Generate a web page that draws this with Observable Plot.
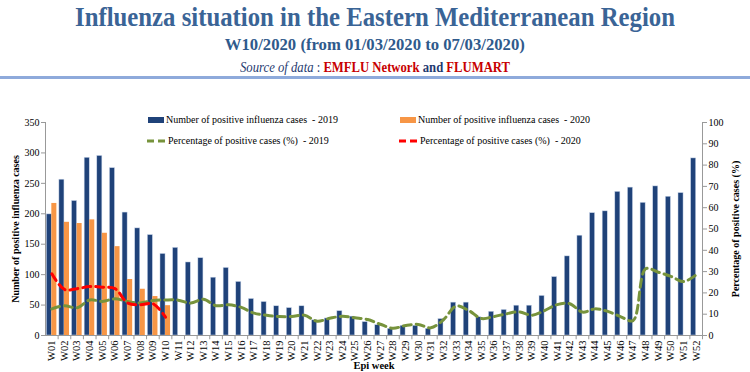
<!DOCTYPE html>
<html><head><meta charset="utf-8">
<script src="https://cdn.jsdelivr.net/npm/d3@7"></script>
<script src="https://cdn.jsdelivr.net/npm/@observablehq/plot@0.6"></script>
<style>
body{margin:0;width:750px;height:372px;overflow:hidden;background:#fff;font-family:"Liberation Serif",serif;position:relative}
#header{position:absolute;left:0;top:0;width:750px;height:80px}
.hl{position:absolute;left:0;width:750px;text-align:center;white-space:nowrap}
.fit{display:inline-block;transform-origin:50% 50%}
#t1{top:4px;font-size:27px;line-height:27px;font-weight:bold;color:#3A6496}
#t2{top:36px;font-size:17px;line-height:17px;font-weight:bold;color:#2F5A8C}
#t3{top:61px;font-size:14px;line-height:14px;color:#1F3A70}
#t3 .it{font-style:italic}
#t3 .red{color:#C80000;font-weight:bold}
#t3 .b{font-weight:bold}
#rule{position:absolute;left:0;top:76px;width:750px;height:3px;background:#8EAADB}
#chart{position:absolute;left:0;top:80px}
.leg{position:absolute;font-size:10px;line-height:10px;white-space:pre;color:#000;font-family:"Liberation Serif",serif}
.sw{position:absolute}
[aria-label="y-axis label"] text,[aria-label="x-axis label"] text{font-weight:bold}
</style></head>
<body>
<div id="header">
  <div class="hl" id="t1"><span class="fit" data-w="600">Influenza situation in the Eastern Mediterranean Region</span></div>
  <div class="hl" id="t2"><span class="fit" data-w="300">W10/2020 (from 01/03/2020 to 07/03/2020)</span></div>
  <div class="hl" id="t3"><span class="fit" data-w="270"><span class="it">Source of data</span> : <span class="red">EMFLU Network</span> <span class="b">and</span> <span class="red">FLUMART</span></span></div>
  <div id="rule"></div>
</div>
<div id="chart"></div>
<div class="sw" style="left:148px;top:117px;width:16px;height:6px;background:#1F4279"></div>
<div class="leg" style="left:166px;top:115px">Number of positive influenza cases  - 2019</div>
<div class="sw" style="left:400px;top:117px;width:16px;height:6px;background:#F79646"></div>
<div class="leg" style="left:418px;top:115px">Number of positive influenza cases  - 2020</div>
<svg class="sw" style="left:146px;top:137px" width="20" height="8"><line x1="1" y1="4" x2="19" y2="4" stroke="#77933C" stroke-width="3" stroke-dasharray="7,4"/></svg>
<div class="leg" style="left:168px;top:136px">Percentage of positive cases (%)  - 2019</div>
<svg class="sw" style="left:398px;top:137px" width="20" height="8"><line x1="1" y1="4" x2="19" y2="4" stroke="#FF0000" stroke-width="3" stroke-dasharray="7,4"/></svg>
<div class="leg" style="left:420px;top:136px">Percentage of positive cases (%)  - 2020</div>
<script>
const weeks = ["W01","W02","W03","W04","W05","W06","W07","W08","W09","W10","W11","W12","W13","W14","W15","W16","W17","W18","W19","W20","W21","W22","W23","W24","W25","W26","W27","W28","W29","W30","W31","W32","W33","W34","W35","W36","W37","W38","W39","W40","W41","W42","W43","W44","W45","W46","W47","W48","W49","W50","W51","W52"];
const cases2019 = [199,256,221,292,295,275,202,176,165,134,144,120,127,95,111,88,60,55,48,45,48,25,28,40,31,22,17,11,16,16,11,27,54,54,30,39,42,49,49,65,96,130,164,201,204,236,243,218,245,228,234,291];
const cases2020 = [217,186,184,190,168,146,92,76,64,49];
const pct2019 = [12.5,14,13,16.7,16,17.2,16,15.3,16.4,16.7,16.6,15.2,17,14,14.4,13.2,10.5,9.5,8.9,8.9,9.5,6.7,8.1,9,8.3,7.5,5.3,3.4,4.7,5.2,3.6,7.4,13.8,11.7,8,8.9,10.2,11.1,9.5,11.7,14.5,14.9,11,12.5,11.3,8.9,7,31.3,29.7,27.8,25.3,28.5];
const pct2020 = [29,21.6,22,23,22.7,22,15.3,14.4,14.9,8.6];
const caseTicks = [0,50,100,150,200,250,300,350];
const pctTicks = [0,10,20,30,40,50,60,70,80,90,100];

// fit header text widths
document.querySelectorAll(".fit").forEach(el => {
  const w = el.getBoundingClientRect().width;
  el.style.transform = `scaleX(${(+el.dataset.w / w).toFixed(4)})`;
});

const W = 750, H = 292, mL = 45, mR = 48, mT = 42, mB = 37;
const padIn = 0.2, padOut = 0.1;
const step = (W - mL - mR) / (weeks.length - padIn + 2 * padOut);
const bw = step * (1 - padIn);
const k = 350 / 100; // percentage -> left scale units

const d19 = weeks.map((w, i) => ({week: w, v: cases2019[i], p: pct2019[i]}));
const d20 = cases2020.map((v, i) => ({week: weeks[i], v, p: pct2020[i]}));

const chart = Plot.plot({
  width: W, height: H,
  marginLeft: mL, marginRight: mR, marginTop: mT, marginBottom: mB,
  style: {fontFamily: "Liberation Serif", fontSize: "10px", color: "#000", background: "transparent"},
  x: {domain: weeks, paddingInner: padIn, paddingOuter: padOut},
  y: {domain: [0, 350]},
  marks: [
    Plot.barY(d19, {x: "week", y: "v", fill: "#1F4279", stroke: "#c9d6ea", strokeWidth: 0.5, insetLeft: 0, insetRight: bw / 2}),
    Plot.barY(d20, {x: "week", y: "v", fill: "#F79646", insetLeft: bw / 2, insetRight: 0}),
    Plot.line(d19, {x: "week", y: d => d.p * k, stroke: "#77933C", strokeWidth: 3, strokeDasharray: "8,5", curve: "catmull-rom"}),
    Plot.line(d20, {x: "week", y: d => d.p * k, stroke: "#FF0000", strokeWidth: 3, strokeDasharray: "8,5", curve: "catmull-rom"}),
    Plot.ruleY([0], {stroke: "#999"}),
    Plot.ruleX(weeks, {x: d => d, dx: step / 2, y1: 0, y2: -7, stroke: "#999"}),
    Plot.frame({anchor: "left", stroke: "#999"}),
    Plot.frame({anchor: "right", stroke: "#999"}),
    Plot.axisY(caseTicks, {anchor: "left", tickSize: 4, tickPadding: 2, stroke: "#999", label: "Number of positive influenza cases", labelAnchor: "center", labelArrow: "none", labelOffset: 34}),
    Plot.axisY(pctTicks.map(v => v * k), {anchor: "right", tickSize: 4, tickPadding: 2, stroke: "#999", tickFormat: d => Math.round(d / k), label: "Percentage of positive cases (%)", labelAnchor: "center", labelArrow: "none", labelOffset: 36}),
    Plot.axisX({tickRotate: -90, tickSize: 0, tickPadding: 5, fontSize: 10.5, label: "Epi week", labelAnchor: "center", labelArrow: "none", labelOffset: 33})
  ]
});
document.getElementById("chart").append(chart);
</script>
</body></html>
